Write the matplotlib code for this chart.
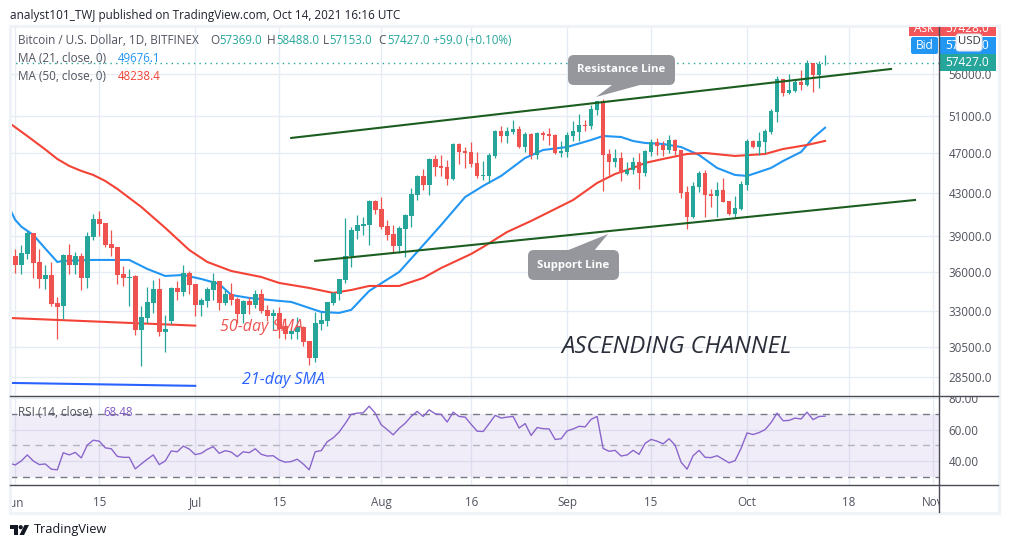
import matplotlib
matplotlib.use("Agg")
import matplotlib.pyplot as plt
from matplotlib.patches import FancyBboxPatch, Polygon, Rectangle, Circle
from matplotlib.ticker import NullLocator
from matplotlib.transforms import Bbox

# day numbers count from Jun 1 2021, first candle is May 31
opens = [35620,37330,36590,37496,39293,36834,35462,35780,33618,33395,37412,36590,37330,35540,38945,40537,
         40180,38341,38085,35862,35540,35700,31655,32510,33620,34680,31515,32295,34760,34450,35940,35071,
         33470,33770,34600,35305,33620,34298,33920,32804,33770,33470,34298,33100,32660,32880,31940,31374,
         31515,31870,30890,29740,32081,32295,33620,34298,35385,37330,39470,39915,40000,42195,41450,39915,
         39205,38170,39650,40810,42765,44620,43730,46340,45620,45520,44320,47912,47170,47065,45930,44620,
         44620,46650,49320,48775,49210,49540,47590,48992,46750,49100,48992,48880,46960,47065,48775,49210,
         49985,49875,51680,52730,46856,46030,46440,44814,45220,46030,44915,47065,48130,47805,47275,48340,
         47275,43060,40720,43540,44915,42861,42670,43250,42195,40992,41450,43730,48230,47590,48130,49210,
         51450,55375,53680,53920,55010,54640,57420,55875,57369]
highs = [37330,37915,38255,39470,39293,37915,36590,36834,34073,37496,38341,37665,37580,39380,40992,41268,
         40180,39560,38085,36500,36265,35780,33395,34840,35390,35540,32730,34840,35305,36590,36100,35071,
         34000,34840,35940,35305,34600,35150,34070,33845,34070,34600,34680,33470,33170,33320,32510,31870,
         32585,31940,30890,32950,32950,33693,34450,35462,40630,39825,40900,40720,42290,42290,42570,40450,
         40000,39915,40992,43440,44715,45320,46440,46750,46750,46230,48020,48020,47590,48130,47065,46130,
         46960,49430,49875,49765,50540,49875,49210,49100,49210,49320,49650,48992,48230,49210,50430,51225,
         50540,52260,52730,52965,47380,47380,47065,46030,46545,46960,47275,48450,48560,48230,48880,48450,
         47275,43640,44020,45120,45220,43350,44020,44420,42195,42670,44120,48450,48340,49210,49540,51800,
         55750,55375,56000,55375,56500,57800,57420,57675,58488]
lows = [35620,35940,35860,37080,35566,34760,34680,33395,31030,32444,35862,35862,34603,34760,38685,39030,
        38085,37330,35071,34915,33395,31305,29215,32153,32880,31235,30140,32080,33845,34140,34298,32660,
        32660,33320,33845,33100,33470,33470,32150,32150,32804,33245,32880,32295,31655,31100,31030,31030,
        31030,30545,29280,29475,31655,31940,33470,33845,35150,36420,38770,39120,38255,40992,39650,38685,
        37580,37580,37250,39825,42290,43250,42765,44620,44620,43730,44220,45824,45420,45520,44420,44220,
        43925,46440,48130,48020,48992,47485,47065,46340,46340,48340,47805,46856,46545,46545,48230,48230,
        49320,49540,51110,43150,44715,45520,44120,44715,44814,43350,44620,46650,46750,46650,46960,46750,
        42480,39650,40630,43060,40720,41640,40720,42100,40900,40720,41360,43250,47485,46750,46960,48992,
        50320,53320,53559,53800,54030,54520,53800,54270,57153]
closes = [37330,36590,37580,39293,36752,35462,35780,33543,33318,37412,36590,37330,35540,39030,40537,40089,
          38255,38000,35780,35540,35620,31655,32590,33693,34680,31515,31730,34760,34450,35940,35000,33470,
          33845,34680,35305,33620,34298,33845,32804,33770,33470,34298,33025,32660,32880,31730,31374,31585,
          31870,30820,29740,32150,32370,33693,34375,35462,37330,39560,40000,40089,42195,41360,39825,39120,
          38170,39740,40900,42861,44620,43730,46340,45520,45420,44320,47912,47065,46960,45824,44620,44715,
          46750,49320,48775,49320,49540,47590,48992,46750,49100,48880,48775,46960,47170,48880,49320,49985,
          49875,51800,52730,46750,46030,46440,44915,45220,46030,44915,47170,48130,47700,47275,48340,47170,
          42960,40720,43640,44915,42765,42670,43250,42100,40992,41550,43826,48230,47590,48230,49320,51570,
          55375,53680,54030,55010,54640,57420,55875,57300,57427]
rsi_vals = [38.75,37.7,40.2,44.0,40.2,37.9,38.3,35.0,34.6,45.4,44.0,45.6,42.1,50.2,53.3,52.7,48.5,47.9,43.1,42.5,
            42.5,35.2,38.3,41.3,44.0,37.9,40.2,46.5,46.0,49.6,47.7,44.2,45.0,47.5,49.2,45.0,46.7,45.8,42.9,46.0,
            45.4,47.9,44.4,43.3,43.5,40.8,39.4,39.8,41.3,38.3,34.6,46.0,46.7,52.3,54.8,58.5,63.8,69.6,70.4,70.6,
            74.8,70.4,63.1,60.0,56.7,60.8,64.0,68.3,71.5,68.3,72.5,70.0,69.6,64.8,71.0,68.3,67.9,63.3,59.0,58.8,
            63.8,69.0,67.3,67.9,68.3,61.0,63.8,56.3,61.3,60.6,60.4,53.8,54.2,59.2,60.4,62.1,61.7,66.5,68.3,48.1,
            46.3,46.9,43.3,44.0,46.9,44.4,51.3,53.8,52.7,51.0,54.2,50.2,39.4,35.0,43.5,46.9,42.5,42.3,43.5,41.3,
            39.0,40.4,48.1,57.9,56.9,58.1,60.0,64.4,70.4,65.6,65.8,67.3,66.7,71.0,66.3,68.3,68.48]

ma21_days = [-1,0,1,3,5,7,8,13,19,22,25,28,31,34,36,39,44,46,49,51,54,56,59,64,67,71,75,78,81,85,88,92,96,98,101,103,105,
             108,111,114,117,120,122,124,126,128,131,133,135]
ma21_vals = [41548,40450,39850,39120,37950,36835,36920,37000,37000,36265,35700,35780,35462,35071,34220,33995,33770,33693,
             33245,32950,32880,33100,34530,36020,37665,40000,42570,43640,44620,46440,47275,47590,48340,48775,48665,48230,
             48020,47912,47590,46750,45420,44715,44620,45015,45420,46130,47065,48560,49676]
ma50_days = [-1,2,5,7,9,11,13,15,17,21,25,29,32,36,41,44,49,53,56,59,64,68,71,76,78,82,86,90,93,97,100,103,105,108,112,
             115,120,125,128,132,135]
ma50_vals = [50210,48770,47330,46340,45620,45120,44715,44120,43350,41640,39740,37830,36835,36100,35620,35150,34760,34375,
             34600,34915,34915,35540,36340,37496,38085,39380,40360,41450,42290,43925,44814,45420,45930,46340,46856,46960,
             46650,46856,47380,47805,48238]

price_ticks = [56000,51000,47000,43000,39000,36000,33000,30500,28500]
x_ticks = [0,14,30,44,61,76,92,106,122,139,153]
x_labels = ["Jun","15","Jul","15","Aug","16","Sep","15","Oct","18","Nov"]
rsi_ticks = [80,60,40]

UP = "#26a69a"
DOWN = "#ef5350"
GRID = "#e6ecf3"
DARK = "#4a4c55"
TXT = "#50535e"
W, H = 1009, 548
FONT = "Open Sans"

plt.rcParams["font.family"] = FONT


def px_axes(fig, left, top, right, bottom, **kw):
    return fig.add_axes([left/W, 1-bottom/H, (right-left)/W, (bottom-top)/H], **kw)


fig = plt.figure(figsize=(W/100, H/100), dpi=100)
ax = px_axes(fig, 10, 27, 939, 396)
rsi = px_axes(fig, 10, 397, 939, 485)
ov = fig.add_axes([0, 0, 1, 1], zorder=10)
ov.set_xlim(0, W)
ov.set_ylim(H, 0)
ov.axis("off")
ov.patch.set_alpha(0)

# main pane
ax.set_yscale("log")
ax.set_xlim(-0.883, 154)
ax.set_ylim(27320, 62186)
ax.yaxis.set_minor_locator(NullLocator())
ax.set_yticks(price_ticks, ["%.1f" % p for p in price_ticks])
ax.yaxis.tick_right()
ax.tick_params(axis="y", length=0, pad=7, labelsize=8.4, labelcolor=TXT)
ax.set_xticks(x_ticks, [])
ax.tick_params(axis="x", length=0)
ax.grid(True, color=GRID, lw=1.0, zorder=0)
ax.set_axisbelow(True)
for s in ax.spines.values():
    s.set_visible(False)

ax.plot([-1, 30], [32510, 31960], color="#f44336", lw=1.5, zorder=2)
ax.plot([-1, 30], [28130, 27945], color="#2962ff", lw=1.5, zorder=2)
ax.plot(ma21_days, ma21_vals, color="#2196f3", lw=1.5, zorder=2)
ax.plot(ma50_days, ma50_vals, color="#f44336", lw=1.5, zorder=2)

for i, (o, h, l, c) in enumerate(zip(opens, highs, lows, closes)):
    d = i - 1
    col = UP if c >= o else DOWN
    ax.vlines(d, l, h, color=col, lw=0.9, zorder=3)
    lo, hi = min(o, c), max(o, c)
    ax.bar(d, hi-lo, bottom=lo, width=0.78, color=col, lw=0, zorder=3)

# trend lines and last price
ax.plot([46, 146], [48560, 56630], color="#1b5e20", lw=1.5, zorder=4)
ax.plot([50, 150], [36920, 42290], color="#1b5e20", lw=1.5, zorder=4)
ax.axhline(closes[-1], color=UP, lw=1, ls=(0, (1, 3)), zorder=2)

# rsi pane
rsi.set_xlim(-0.883, 154)
rsi.set_ylim(25, 80.6)
rsi.axhspan(30, 70, color="#7e57c2", alpha=0.1, lw=0, zorder=1)
rsi.set_yticks(rsi_ticks, ["%.2f" % v for v in rsi_ticks])
rsi.yaxis.tick_right()
rsi.tick_params(axis="y", length=0, pad=7, labelsize=8.4, labelcolor=TXT)
rsi.set_xticks(x_ticks, x_labels)
rsi.tick_params(axis="x", length=0, pad=8, labelsize=8.4, labelcolor=TXT)
rsi.grid(True, color=GRID, lw=1.0, zorder=0)
rsi.set_axisbelow(True)
for v in [30, 70]:
    rsi.axhline(v, color="#787b86", lw=1, ls=(0, (5, 4)), zorder=2)
rsi.axhline(50, color="#b2b5be", lw=1, ls=(0, (5, 4)), zorder=2)
rsi.plot(range(-1, 136), rsi_vals, color="#8a66cc", lw=1.0, zorder=3)
for s in rsi.spines.values():
    s.set_visible(False)
# labels cut off by the panes
for lab in rsi.get_xticklabels():
    lab.set_clip_box(Bbox([[10, 0], [939, H]]))
    lab.set_clip_on(True)
for lab in rsi.get_yticklabels():
    lab.set_clip_box(Bbox([[939, H-485], [1000, H-396]]))
    lab.set_clip_on(True)


def txt(x, y, s, color=TXT, size=8.5, **kw):
    kw.setdefault("va", "center")
    ov.text(x, y, s, color=color, fontsize=size, **kw)


# frame and pane borders
ov.add_patch(Rectangle((9.5, 26), 989.5, 487, fc="none", ec="#eff2f7", lw=2.2))
ov.plot([10, 998], [396, 396], color=DARK, lw=1)
ov.plot([10, 998], [485, 485], color=DARK, lw=1)
ov.plot([939, 939], [27, 512], color=DARK, lw=1)

# header
txt(10, 15, "analyst101_TWJ published on TradingView.com, Oct 14, 2021 16:16 UTC", color="#1e222d", size=8.45)
txt(18, 41, "Bitcoin / U.S. Dollar, 1D, BITFINEX")
for x, lab, xv, val in [(210, "O", 219, "57369.0"), (267, "H", 276, "58488.0"),
                        (323, "L", 329, "57153.0"), (378, "C", 387, "57427.0")]:
    txt(x, 41, lab)
    txt(xv, 41, val, color=UP, size=8.3)
txt(433, 41, "+59.0 (+0.10%)", color=UP, size=8.3)
txt(18, 59, "MA (21, close, 0)")
txt(118, 59, "49676.1", color="#2196f3", size=8.3)
txt(18, 76, "MA (50, close, 0)")
txt(118, 76, "48238.4", color="#f44336", size=8.3)
txt(18, 412, "RSI (14, close)")
txt(103, 412, "68.48", color="#7e57c2", size=8.3)

# price tags
ov.add_patch(Rectangle((909, 27), 30, 9, fc="#f0565a", lw=0))
ov.add_patch(Rectangle((939.5, 27), 56, 9, fc="#f0565a", lw=0))
ov.add_patch(FancyBboxPatch((911, 37), 27, 17, boxstyle="round,pad=0,rounding_size=2", fc="#2196f3", lw=0))
ov.add_patch(Rectangle((939.5, 37), 56, 17, fc="#2196f3", lw=0))
ov.add_patch(Rectangle((939.5, 54), 56, 17, fc=UP, lw=0))
clip_top = Bbox([[900, H-36], [1000, H-27]])
txt(923.5, 29, "Ask", color="white", size=8.6, ha="center", clip_on=True, clip_box=clip_top)
txt(967, 29, "57428.0", color="white", size=8.6, ha="center", clip_on=True, clip_box=clip_top)
txt(924.5, 45.5, "Bid", color="white", size=8.6, ha="center")
txt(967, 45.5, "57427.0", color="white", size=8.6, ha="center")
txt(967, 62.5, "57427.0", color="white", size=8.6, ha="center")
ov.add_patch(FancyBboxPatch((956, 34), 26, 17, boxstyle="round,pad=0,rounding_size=3",
                            fc="white", ec="#e0e3eb", lw=0.8, zorder=5))
txt(969, 42, "USD", color="#333640", size=8.2, ha="center", zorder=6)

# callouts
CALL = "#95979d"
ov.add_patch(FancyBboxPatch((568, 55), 107, 30, boxstyle="round,pad=0,rounding_size=6", fc=CALL, lw=0))
ov.add_patch(Polygon([(596, 97), (612, 85), (640, 85)], fc=CALL, lw=0))
txt(621.5, 70, "Resistance Line", color="white", size=8.2, ha="center", fontweight="bold")
ov.add_patch(FancyBboxPatch((528, 250), 91, 30, boxstyle="round,pad=0,rounding_size=6", fc=CALL, lw=0))
ov.add_patch(Polygon([(608, 234), (566, 251), (594, 251)], fc=CALL, lw=0))
txt(573.5, 265.5, "Support Line", color="white", size=8.2, ha="center", fontweight="bold")

# hand drawn notes
txt(220, 327, "50-day SMA", color="#ef5350", size=11.5, style="italic")
txt(242, 380, "21-day SMA", color="#2962ff", size=11.5, style="italic")
txt(561, 347, "ASCENDING CHANNEL", color="#2a2e39", size=17.1, style="italic")

# logo
ov.add_patch(Polygon([(10, 525), (18, 525), (18, 535), (14, 535), (14, 529), (10, 529)], fc="#131722", lw=0))
ov.add_patch(Circle((20.7, 527.2), 2.1, fc="#131722", lw=0))
ov.add_patch(Polygon([(24.5, 525), (29, 525), (24, 535), (19.5, 535)], fc="#131722", lw=0))
txt(34, 530, "TradingView", color="#131722", size=9.2)

fig.savefig("out.png", dpi=100)
